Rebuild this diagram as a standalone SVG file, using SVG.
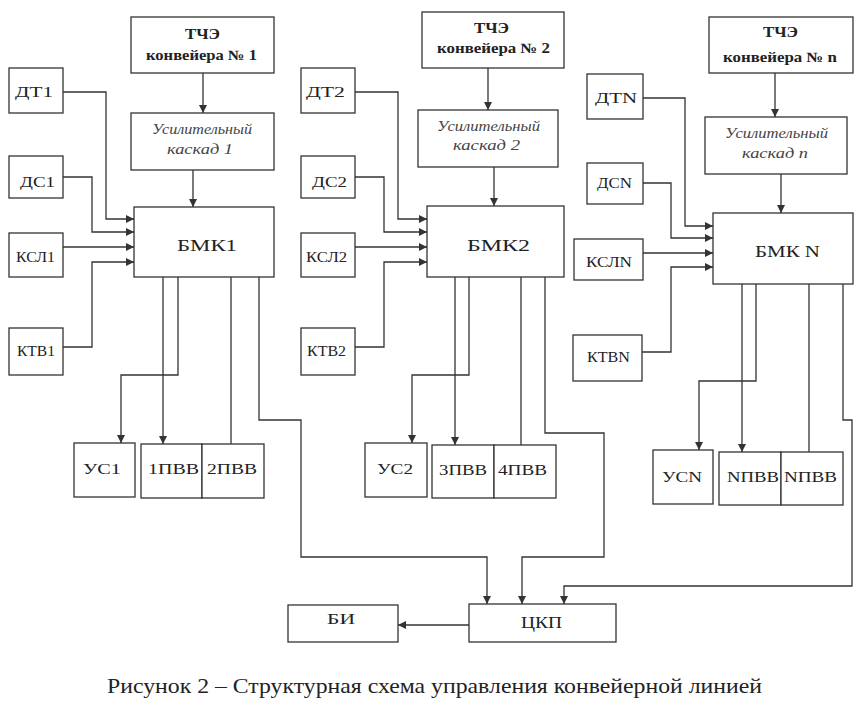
<svg xmlns="http://www.w3.org/2000/svg" width="863" height="709" viewBox="0 0 863 709">
<style>
.b{fill:#fff;stroke:#333;stroke-width:1.3}
.c{fill:none;stroke:#333;stroke-width:1.3}
.t{font-family:"Liberation Serif","Times New Roman",serif;fill:#222;font-size:15px}
.m{font-size:17px}
.h{font-weight:bold;font-size:14px}
.i{font-style:italic;font-size:14px;fill:#444}
.cap{font-family:"Liberation Serif","Times New Roman",serif;fill:#222;font-size:21px}
</style>
<defs>
<marker id="a" markerUnits="userSpaceOnUse" markerWidth="9" markerHeight="9" refX="8" refY="4" orient="auto"><path d="M0,0 L8,4 L0,8 z" fill="#333"/></marker>
</defs>
<rect width="863" height="709" fill="#fff"/>
<g id="connectors">
<path class="c" d="M203,73 V113" marker-end="url(#a)"/>
<path class="c" d="M193,170 V207" marker-end="url(#a)"/>
<path class="c" d="M63,92 H106 V219 H134" marker-end="url(#a)"/>
<path class="c" d="M63,177 H92 V232 H134" marker-end="url(#a)"/>
<path class="c" d="M63,247 H134" marker-end="url(#a)"/>
<path class="c" d="M63,347 H92 V262 H134" marker-end="url(#a)"/>
<path class="c" d="M178,277 V375 H121 V443" marker-end="url(#a)"/>
<path class="c" d="M163,277 V444" marker-end="url(#a)"/>
<path class="c" d="M231,277 V444"/>
<path class="c" d="M259,277 V420 H301 V557 H487 V604" marker-end="url(#a)"/>
<path class="c" d="M488,68 V110" marker-end="url(#a)"/>
<path class="c" d="M494,167 V206" marker-end="url(#a)"/>
<path class="c" d="M355,92 H398 V219 H427" marker-end="url(#a)"/>
<path class="c" d="M355,177 H384 V232 H427" marker-end="url(#a)"/>
<path class="c" d="M355,247 H427" marker-end="url(#a)"/>
<path class="c" d="M355,347 H384 V262 H427" marker-end="url(#a)"/>
<path class="c" d="M469,277 V375 H412 V443" marker-end="url(#a)"/>
<path class="c" d="M455,277 V445" marker-end="url(#a)"/>
<path class="c" d="M521,277 V445"/>
<path class="c" d="M545,277 V433 H604 V557 H522 V604" marker-end="url(#a)"/>
<path class="c" d="M775,73 V117" marker-end="url(#a)"/>
<path class="c" d="M781,174 V213" marker-end="url(#a)"/>
<path class="c" d="M643,98 H685 V226 H713" marker-end="url(#a)"/>
<path class="c" d="M643,183 H671 V238 H713" marker-end="url(#a)"/>
<path class="c" d="M643,253 H713" marker-end="url(#a)"/>
<path class="c" d="M642,352 H671 V267 H713" marker-end="url(#a)"/>
<path class="c" d="M756,284 V381 H699 V450" marker-end="url(#a)"/>
<path class="c" d="M742,284 V452" marker-end="url(#a)"/>
<path class="c" d="M809,284 V452"/>
<path class="c" d="M843,284 V420 H852 V586 H564 V604" marker-end="url(#a)"/>
<path class="c" d="M469,625 H398" marker-end="url(#a)"/>
</g>
<g id="tche1"><rect class="b" x="131" y="17" width="143" height="56"/><text class="t h" x="202.5" y="39" text-anchor="middle" textLength="35" lengthAdjust="spacingAndGlyphs">ТЧЭ</text><text class="t h" x="201.5" y="60" text-anchor="middle" textLength="111" lengthAdjust="spacingAndGlyphs">конвейера № 1</text></g>
<g id="us1"><rect class="b" x="131" y="113" width="143" height="57"/><text class="t i" x="202" y="134" text-anchor="middle" textLength="100" lengthAdjust="spacingAndGlyphs">Усилительный</text><text class="t i" x="200" y="154" text-anchor="middle" textLength="66" lengthAdjust="spacingAndGlyphs">каскад  1</text></g>
<g id="bmk1"><rect class="b" x="134" y="207" width="140" height="70"/><text class="t m" x="207" y="251" text-anchor="middle" textLength="60" lengthAdjust="spacingAndGlyphs">БМК1</text></g>
<g id="dt1"><rect class="b" x="9" y="68" width="54" height="45"/><text class="t" x="34" y="97" text-anchor="middle" textLength="38" lengthAdjust="spacingAndGlyphs">ДТ1</text></g>
<g id="ds1"><rect class="b" x="9" y="156" width="54" height="42"/><text class="t" x="37.5" y="187" text-anchor="middle" textLength="35" lengthAdjust="spacingAndGlyphs">ДС1</text></g>
<g id="ksl1"><rect class="b" x="9" y="233" width="54" height="44"/><text class="t" x="35.5" y="262" text-anchor="middle" textLength="39" lengthAdjust="spacingAndGlyphs">КСЛ1</text></g>
<g id="ktv1"><rect class="b" x="9" y="328" width="54" height="47"/><text class="t" x="36" y="356" text-anchor="middle" textLength="38" lengthAdjust="spacingAndGlyphs">КТВ1</text></g>
<g id="us1b"><rect class="b" x="74" y="443" width="61" height="54"/><text class="t" x="102" y="474" text-anchor="middle" textLength="38" lengthAdjust="spacingAndGlyphs">УС1</text></g>
<g id="pvv1"><rect class="b" x="141" y="444" width="61" height="54"/><text class="t" x="173.5" y="474" text-anchor="middle" textLength="51" lengthAdjust="spacingAndGlyphs">1ПВВ</text></g>
<g id="pvv2"><rect class="b" x="202" y="444" width="62" height="54"/><text class="t" x="232" y="474" text-anchor="middle" textLength="50" lengthAdjust="spacingAndGlyphs">2ПВВ</text></g>
<g id="tche2"><rect class="b" x="422" y="12" width="142" height="56"/><text class="t h" x="491.5" y="33" text-anchor="middle" textLength="35" lengthAdjust="spacingAndGlyphs">ТЧЭ</text><text class="t h" x="493.5" y="53" text-anchor="middle" textLength="113" lengthAdjust="spacingAndGlyphs">конвейера № 2</text></g>
<g id="us2"><rect class="b" x="418" y="110" width="140" height="57"/><text class="t i" x="488.5" y="131" text-anchor="middle" textLength="103" lengthAdjust="spacingAndGlyphs">Усилительный</text><text class="t i" x="486.5" y="150" text-anchor="middle" textLength="67" lengthAdjust="spacingAndGlyphs">каскад  2</text></g>
<g id="bmk2"><rect class="b" x="427" y="206" width="137" height="71"/><text class="t m" x="498.5" y="251" text-anchor="middle" textLength="63" lengthAdjust="spacingAndGlyphs">БМК2</text></g>
<g id="dt2"><rect class="b" x="301" y="68" width="54" height="45"/><text class="t" x="325.5" y="97" text-anchor="middle" textLength="39" lengthAdjust="spacingAndGlyphs">ДТ2</text></g>
<g id="ds2"><rect class="b" x="301" y="156" width="54" height="42"/><text class="t" x="329.5" y="187" text-anchor="middle" textLength="35" lengthAdjust="spacingAndGlyphs">ДС2</text></g>
<g id="ksl2"><rect class="b" x="301" y="233" width="54" height="44"/><text class="t" x="326.5" y="262" text-anchor="middle" textLength="41" lengthAdjust="spacingAndGlyphs">КСЛ2</text></g>
<g id="ktv2"><rect class="b" x="301" y="328" width="54" height="47"/><text class="t" x="326.5" y="356" text-anchor="middle" textLength="39" lengthAdjust="spacingAndGlyphs">КТВ2</text></g>
<g id="us2b"><rect class="b" x="365" y="443" width="62" height="54"/><text class="t" x="395" y="474" text-anchor="middle" textLength="36" lengthAdjust="spacingAndGlyphs">УС2</text></g>
<g id="pvv3"><rect class="b" x="432" y="445" width="62" height="53"/><text class="t" x="463" y="475" text-anchor="middle" textLength="48" lengthAdjust="spacingAndGlyphs">3ПВВ</text></g>
<g id="pvv4"><rect class="b" x="494" y="445" width="62" height="53"/><text class="t" x="522.5" y="475" text-anchor="middle" textLength="49" lengthAdjust="spacingAndGlyphs">4ПВВ</text></g>
<g id="tchen"><rect class="b" x="709" y="17" width="144" height="56"/><text class="t h" x="780.5" y="37" text-anchor="middle" textLength="35" lengthAdjust="spacingAndGlyphs">ТЧЭ</text><text class="t h" x="780" y="62" text-anchor="middle" textLength="114" lengthAdjust="spacingAndGlyphs">конвейера № n</text></g>
<g id="usn"><rect class="b" x="705" y="117" width="142" height="57"/><text class="t i" x="776.5" y="138" text-anchor="middle" textLength="103" lengthAdjust="spacingAndGlyphs">Усилительный</text><text class="t i" x="775" y="158" text-anchor="middle" textLength="66" lengthAdjust="spacingAndGlyphs">каскад  n</text></g>
<g id="bmkn"><rect class="b" x="713" y="213" width="140" height="71"/><text class="t m" x="787.5" y="257" text-anchor="middle" textLength="65" lengthAdjust="spacingAndGlyphs">БМК N</text></g>
<g id="dtn"><rect class="b" x="587" y="74" width="56" height="45"/><text class="t" x="616" y="103" text-anchor="middle" textLength="42" lengthAdjust="spacingAndGlyphs">ДТN</text></g>
<g id="dsn"><rect class="b" x="587" y="163" width="56" height="41"/><text class="t" x="614.5" y="188" text-anchor="middle" textLength="35" lengthAdjust="spacingAndGlyphs">ДСN</text></g>
<g id="ksln"><rect class="b" x="574" y="239" width="69" height="41"/><text class="t" x="609" y="267" text-anchor="middle" textLength="46" lengthAdjust="spacingAndGlyphs">КСЛN</text></g>
<g id="ktvn"><rect class="b" x="573" y="335" width="69" height="46"/><text class="t" x="608.5" y="362" text-anchor="middle" textLength="43" lengthAdjust="spacingAndGlyphs">КТВN</text></g>
<g id="usnb"><rect class="b" x="653" y="450" width="60" height="54"/><text class="t" x="682" y="482" text-anchor="middle" textLength="40" lengthAdjust="spacingAndGlyphs">УСN</text></g>
<g id="pvvn1"><rect class="b" x="719" y="452" width="62" height="53"/><text class="t" x="753" y="482" text-anchor="middle" textLength="52" lengthAdjust="spacingAndGlyphs">NПВВ</text></g>
<g id="pvvn2"><rect class="b" x="781" y="452" width="62" height="53"/><text class="t" x="810.5" y="482" text-anchor="middle" textLength="53" lengthAdjust="spacingAndGlyphs">NПВВ</text></g>
<g id="ckp"><rect class="b" x="469" y="604" width="147" height="38"/><text class="t m" x="541.5" y="628" text-anchor="middle" textLength="41" lengthAdjust="spacingAndGlyphs">ЦКП</text></g>
<g id="bi"><rect class="b" x="288" y="605" width="110" height="37"/><text class="t" x="341" y="624" text-anchor="middle" textLength="28" lengthAdjust="spacingAndGlyphs">БИ</text></g>
<text class="cap" x="434.5" y="693" text-anchor="middle" textLength="655" lengthAdjust="spacingAndGlyphs">Рисунок 2 – Структурная схема управления конвейерной линией</text>
</svg>
